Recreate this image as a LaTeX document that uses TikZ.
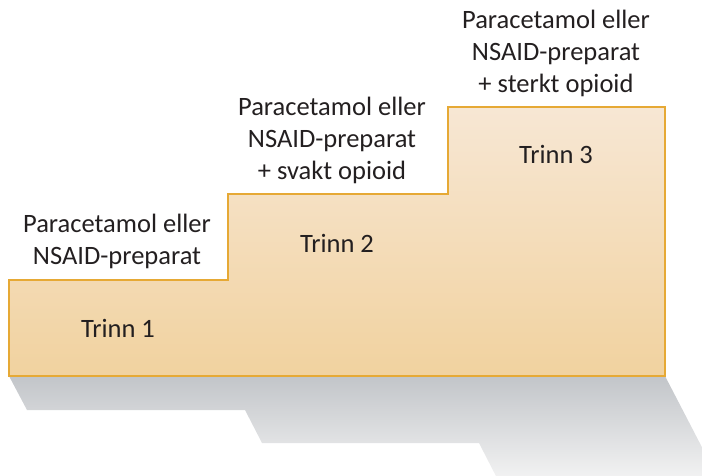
\documentclass[tikz,border=0pt]{standalone}
\usepackage{fontspec}
\setmainfont{Carlito}
\definecolor{stepedge}{HTML}{E6A935}
\definecolor{steptop}{HTML}{F7E7D4}
\definecolor{stepbottom}{HTML}{F1D29F}
\definecolor{shadowtop}{HTML}{C2C5C9}
\definecolor{shadowmid}{HTML}{E6E6E6}
\definecolor{shadowbottom}{HTML}{F4F4F4}
\definecolor{textcol}{HTML}{231F20}
\begin{document}
\begin{tikzpicture}[x=1pt,y=-1pt,line cap=round,line join=miter,
  druglabel/.style={align=center,font=\fontsize{26.5}{32}\selectfont,text=textcol,inner sep=0pt},
  steplabel/.style={font=\fontsize{26.5}{30}\selectfont,text=textcol,inner sep=0pt}]
% staircase of three steps, pixel coordinates, y pointing down

\useasboundingbox (0,0) rectangle (702,476);

\coordinate (BL) at (9,376);
\coordinate (BR) at (665,376);
\coordinate (S1) at (9,280);
\coordinate (S1r) at (228,280);
\coordinate (S2) at (228,194);
\coordinate (S2r) at (448,194);
\coordinate (S3) at (448,107);
\coordinate (S3r) at (665,107);

% skewed shadow below the steps
\begin{scope}
\clip (0,0) rectangle (702,476);
\shade[top color=shadowtop,middle color=shadowmid,bottom color=shadowbottom]
  (BL) -- (27,410) -- (245,410) -- (262,443) -- (479,443) -- (499,482)
  -- (720,482) -- (BR) -- cycle;
\end{scope}

% steps
\shade[top color=steptop,bottom color=stepbottom]
  (BL) -- (S1) -- (S1r) -- (S2) -- (S2r) -- (S3) -- (S3r) -- (BR) -- cycle;
\draw[stepedge,line width=1.8pt]
  (BL) -- (S1) -- (S1r) -- (S2) -- (S2r) -- (S3) -- (S3r) -- (BR) -- cycle;

% drug labels above each step
\node[druglabel] (drug1) at (117,241) {Paracetamol eller\\NSAID-preparat};
\node[druglabel] (drug2) at (332,140) {Paracetamol eller\\NSAID-preparat\\+ svakt opioid};
\node[druglabel] (drug3) at (556,53) {Paracetamol eller\\NSAID-preparat\\+ sterkt opioid};

% step names
\node[steplabel] (trinn1) at (118,328) {Trinn 1};
\node[steplabel] (trinn2) at (337,243) {Trinn 2};
\node[steplabel] (trinn3) at (556,154) {Trinn 3};

\end{tikzpicture}
\end{document}
